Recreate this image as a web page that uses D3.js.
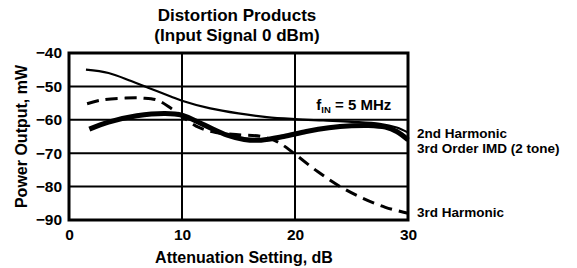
<!DOCTYPE html>
<html>
<head>
<meta charset="utf-8">
<script src="https://cdn.jsdelivr.net/npm/d3@7"></script>
<style>
  body { margin: 0; background: #fff; }
  svg { display: block; font-family: "Liberation Sans", Arial, sans-serif; font-weight: bold; }
</style>
</head>
<body>
<div id="chart"></div>
<script>
// values
const xTicks = [0, 10, 20, 30];
const yTicks = [-90, -80, -70, -60, -50, -40];

const secondX = [1.5, 3.5, 5.5, 7, 9, 10, 12.5, 15, 17.5, 20, 22.5, 25, 27.5, 29, 30];
const secondY = [-45, -46, -48.4, -50.4, -53, -54.3, -56.6, -58.1, -59.2, -59.8, -60.2, -60.6, -61.2, -62.3, -63.8];

const imdX = [1.8, 3.5, 6, 8.5, 10, 12, 14, 15.5, 17, 19, 21, 23, 25, 26.5, 28, 29, 30];
const imdY = [-62.8, -60.7, -58.8, -58.1, -58.6, -61.6, -64.6, -65.9, -66.1, -65, -63.5, -62.4, -61.8, -61.7, -62.2, -63.5, -66];

const thirdX = [1.6, 3, 5, 6.5, 7.8, 9, 10, 11.5, 13, 15, 17, 18.5, 20, 22, 24, 26, 28, 30];
const thirdY = [-55.2, -54, -53.5, -53.5, -54.1, -56.5, -59, -62.3, -63.8, -64.5, -65, -66.7, -70.3, -75.5, -80, -83.5, -86.2, -88];

const seriesLabels = ["2nd Harmonic", "3rd Order IMD (2 tone)", "3rd Harmonic"];
const seriesLabelAt = [-64, -68.5, -87.8];

const width = 577, height = 268;

const svg = d3.select("#chart").append("svg")
    .attr("width", width)
    .attr("height", height);

const x = d3.scaleLinear().domain([0, 30]).range([69, 408]);
const y = d3.scaleLinear().domain([-90, -40]).range([220, 53]);

// grid
svg.append("g")
    .selectAll("line.h")
    .data(yTicks)
    .enter().append("line")
    .attr("x1", x(0)).attr("x2", x(30))
    .attr("y1", d => y(d)).attr("y2", d => y(d))
    .attr("stroke", "#000")
    .attr("stroke-width", 2);

svg.append("g")
    .selectAll("line.v")
    .data(xTicks)
    .enter().append("line")
    .attr("y1", y(-90)).attr("y2", y(-40))
    .attr("x1", d => x(d)).attr("x2", d => x(d))
    .attr("stroke", "#000")
    .attr("stroke-width", 2);

svg.append("rect")
    .attr("x", x(0)).attr("y", y(-40))
    .attr("width", x(30) - x(0)).attr("height", y(-90) - y(-40))
    .attr("fill", "none")
    .attr("stroke", "#000")
    .attr("stroke-width", 3);

// axes (labels only)
const yAxis = svg.append("g")
    .attr("transform", `translate(${x(0) - 7},0)`)
    .call(d3.axisLeft(y).tickValues(yTicks).tickSize(0).tickPadding(0));
yAxis.select(".domain").remove();
yAxis.selectAll("text")
    .style("font-family", "inherit")
    .style("font-size", "15.5px")
    .style("font-weight", "bold")
    .attr("fill", "#000");

const xAxis = svg.append("g")
    .attr("transform", `translate(0,${y(-90) + 9})`)
    .call(d3.axisBottom(x).tickValues(xTicks).tickSize(0).tickPadding(0));
xAxis.select(".domain").remove();
xAxis.selectAll("text")
    .style("font-family", "inherit")
    .style("font-size", "15.5px")
    .style("font-weight", "bold")
    .attr("fill", "#000");

// curves
const line = d3.line()
    .x(d => x(d[0]))
    .y(d => y(d[1]))
    .curve(d3.curveCatmullRom.alpha(0.5));

svg.append("path")
    .datum(d3.zip(thirdX, thirdY))
    .attr("d", line)
    .attr("fill", "none")
    .attr("stroke", "#000")
    .attr("stroke-width", 3)
    .attr("stroke-dasharray", "12,7");

svg.append("path")
    .datum(d3.zip(secondX, secondY))
    .attr("d", line)
    .attr("fill", "none")
    .attr("stroke", "#000")
    .attr("stroke-width", 2.2);

svg.append("path")
    .datum(d3.zip(imdX, imdY))
    .attr("d", line)
    .attr("fill", "none")
    .attr("stroke", "#000")
    .attr("stroke-width", 5);

// series labels at the right
svg.append("g")
    .selectAll("text")
    .data(seriesLabels)
    .enter().append("text")
    .attr("x", x(30) + 9)
    .attr("y", (d, i) => y(seriesLabelAt[i]))
    .attr("dy", "0.35em")
    .style("font-size", "13.5px")
    .text(d => d);

// fIN note
const note = svg.append("text")
    .attr("x", x(25.2))
    .attr("y", y(-55.5))
    .attr("dy", "0.35em")
    .attr("text-anchor", "middle")
    .style("font-size", "15px");
note.append("tspan").text("f");
note.append("tspan").attr("dy", "3").style("font-size", "9.5px").text("IN");
note.append("tspan").attr("dy", "-3").text(" = 5 MHz");

// titles
svg.append("text")
    .attr("x", 237).attr("y", 21)
    .attr("text-anchor", "middle")
    .style("font-size", "17px")
    .text("Distortion Products");
svg.append("text")
    .attr("x", 237).attr("y", 40.5)
    .attr("text-anchor", "middle")
    .style("font-size", "17px")
    .text("(Input Signal 0 dBm)");

svg.append("text")
    .attr("x", 244).attr("y", 257.5)
    .attr("dy", "0.35em")
    .attr("text-anchor", "middle")
    .style("font-size", "16px")
    .text("Attenuation Setting, dB");

svg.append("text")
    .attr("transform", `translate(21,${(y(-40) + y(-90)) / 2}) rotate(-90)`)
    .attr("dy", "0.35em")
    .attr("text-anchor", "middle")
    .style("font-size", "16px")
    .text("Power Output, mW");
</script>
</body>
</html>
